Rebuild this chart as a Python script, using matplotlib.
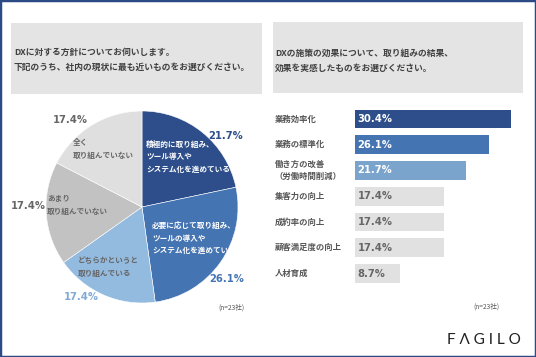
import matplotlib.pyplot as plt
from matplotlib.patches import Rectangle
import matplotlib.transforms as mtransforms

plt.rcParams['font.family'] = ['Noto Sans CJK JP', 'DejaVu Sans']

# 左：DXに対する方針
pie_labels = ['積極的に取り組み、\nツール導入や\nシステム化を進めている',
              '必要に応じて取り組み、\nツールの導入や\nシステム化を進めている',
              'どちらかというと\n取り組んでいる',
              'あまり\n取り組んでいない',
              '全く\n取り組んでいない']
pie_values = [21.7, 26.1, 17.4, 17.4, 17.4]
pie_colors = ['#2d4e8a', '#4574b2', '#93badf', '#c2c2c2', '#dfdfdf']

# 右：DXの施策の効果
bar_labels = ['業務効率化', '業務の標準化', '働き方の改善\n（労働時間削減）', '集客力の向上',
              '成約率の向上', '顧客満足度の向上', '人材育成']
bar_values = [30.4, 26.1, 21.7, 17.4, 17.4, 17.4, 8.7]
bar_colors = ['#2d4e8a', '#4574b2', '#7ba4cd', '#e1e1e1', '#e1e1e1', '#e1e1e1', '#e1e1e1']

W, H = 536, 357
fig = plt.figure(figsize=(W / 100, H / 100), dpi=100)

num_font = dict(family=['Liberation Sans Narrow', 'DejaVu Sans'], fontstretch='condensed',
                fontweight='bold')


def fx(px):
    return px / W


def fy(py):
    return 1 - py / H


# 外枠
fig.patches.append(Rectangle((0, 0), 1, 1, transform=fig.transFigure, fill=False,
                             edgecolor='#2c4a85', linewidth=2.5))

# 設問ボックス
for x0, y0, x1, y1 in [(11, 23, 262, 94), (273, 22, 523, 93)]:
    fig.patches.append(Rectangle((fx(x0), fy(y1)), fx(x1) - fx(x0), fy(y0) - fy(y1),
                                 transform=fig.transFigure, facecolor='#e4e4e4',
                                 edgecolor='none'))

title_kw = dict(fontsize=6.3, color='#404040', fontweight='bold', va='center', ha='left')
fig.text(fx(14), fy(52), 'DXに対する方針についてお伺いします。', **title_kw)
fig.text(fx(14), fy(67), '下記のうち、社内の現状に最も近いものをお選びください。', **title_kw)
fig.text(fx(275), fy(53), 'DXの施策の効果について、取り組みの結果、', **title_kw)
fig.text(fx(275), fy(68), '効果を実感したものをお選びください。', **title_kw)

# 円グラフ
cx, cy, r = 142, 207, 96
ax = fig.add_axes([fx(cx - r), fy(cy + r), 2 * r / W, 2 * r / H])
ax.pie(pie_values, colors=pie_colors, startangle=90, counterclock=False,
       wedgeprops=dict(edgecolor='white', linewidth=0.4))
ax.set_xlim(-1, 1)
ax.set_ylim(-1, 1)
ax.axis('off')

in_pos = [(146, 157), (152, 238), (78, 267), (47, 205), (73, 149)]
in_col = ['white', 'white', '#666666', '#666666', '#666666']
for lab, (px, py), c in zip(pie_labels, in_pos, in_col):
    fig.text(fx(px), fy(py), lab, fontsize=5.5, color=c, fontweight='bold',
             ha='left', va='center', linespacing=1.55)

pct_pos = [(226, 136), (227, 279), (81, 297), (28, 206), (70, 120)]
pct_col = ['#2d4e8a', '#4574b2', '#7fa9d6', '#666666', '#666666']
for v, (px, py), c in zip(pie_values, pct_pos, pct_col):
    fig.text(fx(px), fy(py), f'{v}%', fontsize=8, color=c, ha='center', va='center',
             **num_font)

fig.text(fx(231), fy(308), '(n=23社)', fontsize=4.8, color='#555555', ha='center', va='center')

# 横棒グラフ
ax2 = fig.add_axes([fx(355), fy(286.4), 164 / W, 180.3 / H])
ypos = list(range(len(bar_values)))
ax2.barh(ypos, bar_values, height=0.72, color=bar_colors)
ax2.set_xlim(0, 32)
ax2.set_ylim(len(bar_values) - 0.5, -0.5)
ax2.axis('off')

for i, v in enumerate(bar_values):
    c = 'white' if i < 3 else '#666666'
    ax2.text(0.5, i, f'{v}%', fontsize=8, color=c, ha='left', va='center', **num_font)

trans = mtransforms.blended_transform_factory(fig.transFigure, ax2.transData)
for i, lab in enumerate(bar_labels):
    ax2.text(fx(275), i, lab, transform=trans, fontsize=6, color='#555555',
             fontweight='bold', ha='left', va='center', linespacing=1.5)

fig.text(fx(486), fy(307), '(n=23社)', fontsize=4.8, color='#555555', ha='center', va='center')

# ロゴ
fig.text(fx(484), fy(340), 'F Λ G I L O', fontsize=11, color='#222222', family='Lato',
         fontweight='normal', ha='center', va='center')

fig.savefig('out.png', dpi=100)
